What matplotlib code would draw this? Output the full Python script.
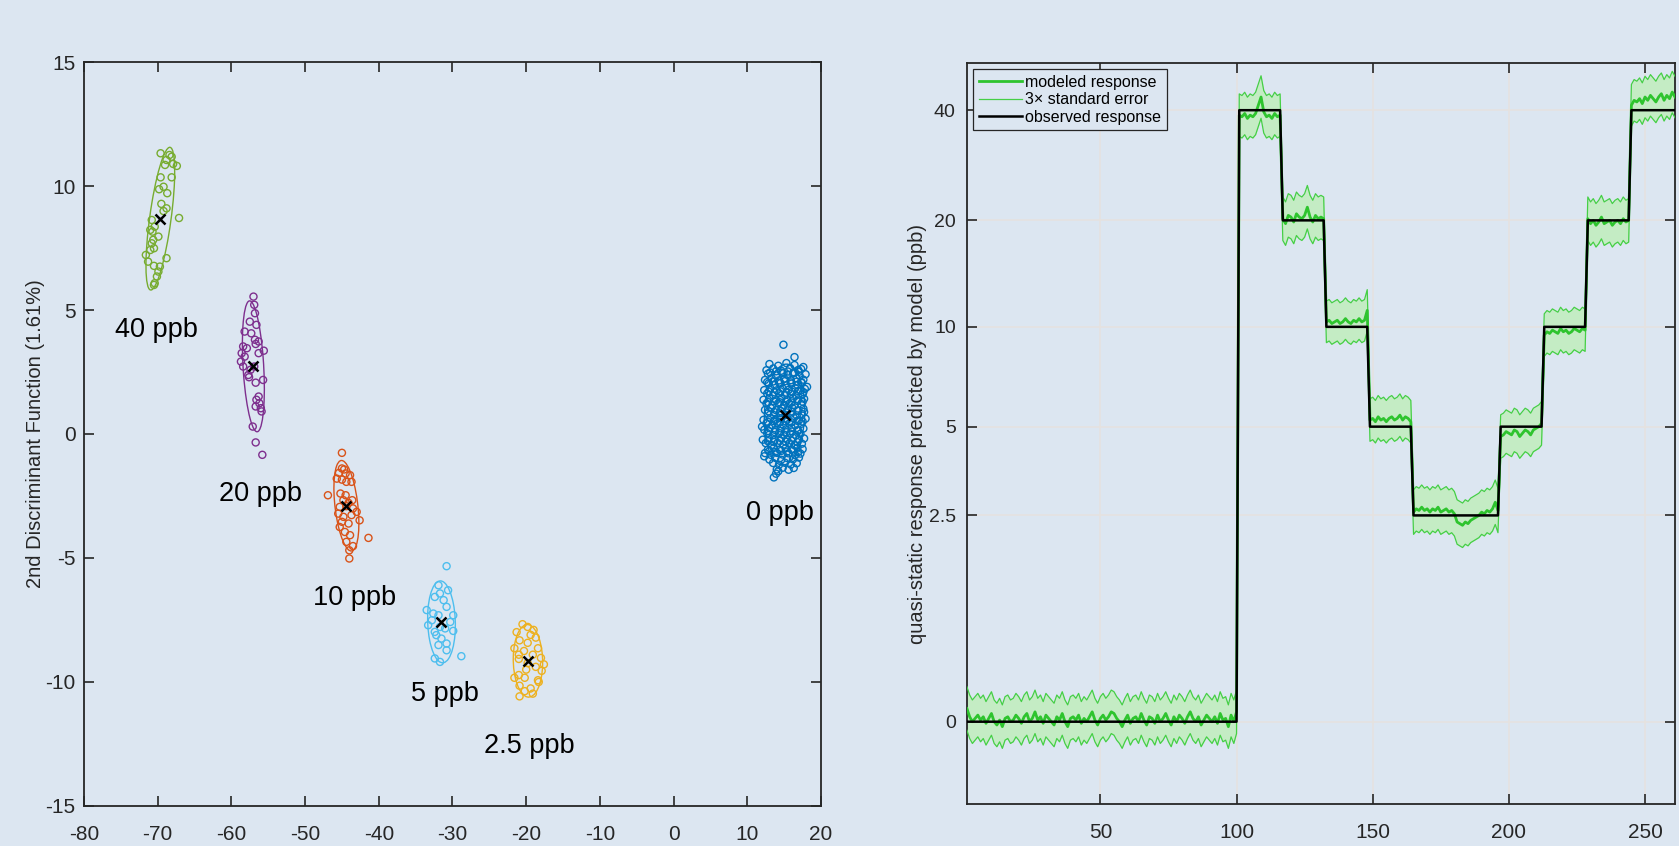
import numpy as np
import matplotlib
matplotlib.use('Agg')
import matplotlib.pyplot as plt
from matplotlib.patches import Ellipse

plt.rcParams['font.family'] = ['Liberation Sans', 'DejaVu Sans']
plt.rcParams['axes.unicode_minus'] = False

bg = '#dce6f1'

# ---------------- left panel: discriminant scores ----------------
labels = ['0 ppb', '2.5 ppb', '5 ppb', '10 ppb', '20 ppb', '40 ppb']
colors = ['#0072BD', '#EDB120', '#4DBEEE', '#D95319', '#7E2F8E', '#77AC30']

x0 = [13.0, 14.2, 15.3, 16.4,
      12.6, 13.5, 14.6, 15.8, 16.9, 17.3,
      12.8, 13.9, 14.9, 15.5, 16.2, 17.1, 17.9,
      12.4, 13.3, 14.3, 15.0, 15.9, 16.7, 17.6,
      12.9, 13.7, 14.5, 15.3, 16.0, 16.8, 17.4,
      12.3, 13.1, 14.0, 14.8, 15.6, 16.5, 17.2, 17.8,
      12.7, 13.5, 14.3, 15.1, 15.9, 16.6, 17.5,
      12.2, 13.0, 13.9, 14.6, 15.4, 16.2, 16.9, 17.7,
      12.6, 13.4, 14.2, 15.0, 15.7, 16.4, 17.3,
      12.4, 13.2, 13.9, 14.7, 15.5, 16.1, 16.8, 17.6,
      12.8, 13.6, 14.4, 15.2, 15.9, 16.7, 17.4,
      12.2, 13.1, 13.8, 14.6, 15.4, 16.3, 17.0, 17.9,
      12.6, 13.4, 14.1, 14.9, 15.7, 16.5, 17.3,
      12.3, 13.0, 13.8, 14.5, 15.2, 16.0, 16.8, 17.6,
      12.7, 13.5, 14.3, 15.0, 15.8, 16.6, 17.2,
      12.1, 12.9, 13.7, 14.6, 15.4, 16.2, 17.0, 17.7,
      12.5, 13.3, 14.1, 14.9, 15.7, 16.4, 17.4,
      12.8, 13.6, 14.4, 15.2, 16.0, 16.8, 17.5,
      12.4, 13.2, 14.0, 14.8, 15.6, 16.5, 17.2,
      13.0, 13.8, 14.6, 15.4, 16.2, 17.0,
      13.5, 14.3, 15.1, 15.9, 16.7,
      14.0, 14.8, 15.6, 16.3,
      13.9, 13.6, 14.2, 14.9, 16.4, 12.0, 18.1, 17.6, 12.3,
      13.1, 13.9, 14.7, 15.5, 16.3, 17.0,
      12.7, 13.5, 14.3, 15.1, 15.9, 16.7, 17.3,
      12.9, 13.7, 14.5, 15.3, 16.1, 16.9, 17.6,
      12.8, 13.6, 14.4, 15.2, 16.0, 16.8, 17.5,
      12.9, 13.7, 14.5, 15.3, 16.1, 16.9, 17.7,
      12.8, 13.6, 14.4, 15.2, 16.0, 16.8, 17.5,
      12.9, 13.7, 14.5, 15.3, 16.1, 16.9,
      12.8, 13.6, 14.4, 15.2, 16.0, 16.8,
      13.0, 13.8, 14.6, 15.4, 16.2, 16.9]
y0 = [2.82, 2.75, 2.86, 2.78,
      2.57, 2.64, 2.55, 2.66, 2.58, 2.62,
      2.43, 2.36, 2.45, 2.38, 2.44, 2.35, 2.41,
      2.18, 2.25, 2.16, 2.23, 2.17, 2.24, 2.19,
      2.04, 1.97, 2.05, 1.96, 2.03, 1.98, 2.06,
      1.77, 1.84, 1.76, 1.83, 1.78, 1.85, 1.75, 1.82,
      1.63, 1.56, 1.64, 1.57, 1.62, 1.55, 1.61,
      1.38, 1.44, 1.36, 1.43, 1.37, 1.45, 1.39, 1.42,
      1.23, 1.16, 1.24, 1.17, 1.22, 1.15, 1.21,
      0.97, 1.04, 0.96, 1.03, 0.98, 1.05, 0.95, 1.02,
      0.83, 0.76, 0.84, 0.77, 0.82, 0.75, 0.81,
      0.57, 0.64, 0.56, 0.63, 0.58, 0.65, 0.55, 0.62,
      0.43, 0.36, 0.44, 0.37, 0.42, 0.35, 0.41,
      0.17, 0.24, 0.16, 0.23, 0.18, 0.25, 0.15, 0.22,
      0.03, -0.04, 0.04, -0.03, 0.02, -0.05, 0.01,
      -0.23, -0.16, -0.24, -0.17, -0.22, -0.15, -0.21, -0.18,
      -0.37, -0.44, -0.36, -0.43, -0.38, -0.45, -0.39,
      -0.63, -0.56, -0.64, -0.57, -0.62, -0.55, -0.61,
      -0.77, -0.84, -0.76, -0.83, -0.78, -0.85, -0.79,
      -1.03, -0.96, -1.04, -0.97, -1.02, -0.95,
      -1.17, -1.24, -1.16, -1.23, -1.18,
      -1.43, -1.36, -1.44, -1.37,
      -1.60, -1.75, -1.50, 3.60, 3.10, 0.30, 1.90, 2.70, -0.90,
      2.48, 2.53, 2.47, 2.52, 2.49, 2.51,
      2.09, 2.12, 2.07, 2.13, 2.08, 2.11, 2.10,
      1.71, 1.68, 1.72, 1.67, 1.70, 1.73, 1.69,
      1.29, 1.32, 1.28, 1.31, 1.27, 1.33, 1.30,
      0.91, 0.88, 0.92, 0.87, 0.90, 0.93, 0.89,
      0.49, 0.52, 0.48, 0.51, 0.47, 0.53, 0.50,
      0.11, 0.08, 0.12, 0.07, 0.10, 0.13,
      -0.29, -0.32, -0.28, -0.31, -0.27, -0.33,
      -0.69, -0.72, -0.68, -0.71, -0.67, -0.73]

x25 = [-20.5, -19.8, -21.3, -19.4, -18.7, -20.9, -19.8, -18.4, -21.6, -20.3,
       -19.1, -18.0, -21.0, -19.8, -18.7, -17.9, -21.0, -20.2, -18.4, -20.9,
       -19.4, -20.2, -19.1, -20.9, -21.6, -17.6, -19.0, -21.0, -18.3, -20.0]
y25 = [-7.67, -7.78, -7.99, -8.10, -8.21, -8.32, -8.42, -8.64, -8.64, -8.75,
       -8.90, -9.03, -9.07, -9.24, -9.39, -9.55, -9.72, -9.83, -9.93, -10.15,
       -10.26, -10.37, -10.47, -10.58, -9.83, -9.29, -7.90, -8.90, -10.00, -9.50]

x5 = [-30.8, -31.9, -30.6, -31.7, -32.4, -31.2, -33.5, -30.8, -32.6, -31.9,
      -29.9, -33.3, -31.7, -32.4, -31.0, -29.9, -32.2, -31.5, -30.8, -31.9,
      -30.8, -28.8, -32.4, -31.7, -32.8, -30.3]
y5 = [-5.33, -6.10, -6.30, -6.43, -6.57, -6.70, -7.10, -6.97, -7.24, -7.31,
      -7.31, -7.71, -7.78, -7.98, -7.84, -7.94, -8.11, -8.25, -8.45, -8.51,
      -8.72, -8.96, -9.05, -9.19, -7.51, -7.58]

x10 = [-45.0, -45.0, -44.7, -45.4, -44.5, -43.9, -45.7, -45.0, -44.4, -43.7,
       -46.9, -45.2, -44.5, -43.6, -44.1, -45.3, -44.4, -43.5, -45.5, -44.8,
       -43.7, -42.6, -45.0, -44.1, -45.3, -44.6, -43.9, -41.4, -44.4, -43.5,
       -44.0, -44.0, -44.8, -43.0]
y10 = [-0.76, -1.39, -1.43, -1.57, -1.59, -1.66, -1.80, -1.84, -1.93, -1.93,
       -2.47, -2.40, -2.47, -2.67, -2.78, -2.94, -2.91, -3.00, -3.21, -3.34,
       -3.27, -3.48, -3.54, -3.61, -3.75, -3.95, -4.08, -4.19, -4.35, -4.52,
       -4.69, -5.02, -2.67, -3.14]

x20 = [-57.0, -56.9, -56.8, -57.5, -56.6, -58.2, -57.3, -56.8, -56.3, -56.7,
       -55.6, -58.4, -58.6, -58.2, -58.7, -58.4, -57.4, -57.7, -57.6, -55.7,
       -56.7, -56.3, -56.6, -56.2, -56.7, -56.0, -55.9, -57.1, -56.7, -55.8,
       -57.9, -56.3, -56.9]
y20 = [5.54, 5.21, 4.87, 4.53, 4.40, 4.13, 4.06, 3.80, 3.73, 3.63,
       3.36, 3.53, 3.26, 3.12, 2.92, 2.72, 2.59, 2.38, 2.29, 2.18,
       2.07, 1.51, 1.38, 1.24, 1.11, 1.04, 0.91, 0.30, -0.34, -0.84,
       3.46, 3.26, 2.72]

x40 = [-69.6, -68.4, -68.1, -68.8, -67.9, -67.4, -69.0, -69.6, -68.1, -69.8,
       -68.7, -69.5, -68.8, -69.2, -67.1, -70.8, -71.0, -70.7, -70.6, -70.8,
       -70.5, -71.0, -71.6, -68.8, -71.3, -70.5, -69.7, -69.9, -70.1, -70.4,
       -70.5, -69.2, -70.4, -69.9]
y40 = [11.32, 11.25, 11.18, 11.05, 10.89, 10.81, 10.85, 10.35, 10.35, 9.87,
       9.71, 9.28, 9.10, 8.99, 8.71, 8.63, 8.23, 8.16, 7.83, 7.69,
       7.49, 7.42, 7.22, 7.09, 6.95, 6.78, 6.75, 6.55, 6.35, 6.08,
       6.01, 9.97, 8.36, 7.96]

# where the class names are written
label_pos = [(14.4, -3.2), (-19.6, -12.6), (-31.0, -10.5),
             (-43.3, -6.6), (-56.0, -2.4), (-70.2, 4.2)]

# ---------------- right panel: step response ----------------
levels = [0, 40, 20, 10, 5, 2.5, 5, 10, 20, 40]
durations = [100, 16, 16, 16, 16, 32, 16, 16, 16, 17]
se_seg = [0.044, 0.043, 0.044, 0.042, 0.043, 0.045, 0.044, 0.043, 0.044, 0.042]
# modeled response, deviation from observed in 0.01 units of log(1+ppb)
model_dev = [8, 3, 0, 2, 4, 1, 3, -1, 2, 5, 0, -2, 1, -3, 2, 3, 0, 1, 4, 2,
             -1, 3, 5, 0, 2, 6, 1, 3, -1, 4, 2, 0, -2, 3, 1, 5, 0, -3, 2, 3,
             1, 4, -1, 2, 0, 3, 6, 1, -2, 2, 4, 1, 3, 6, 5, 2, 0, -3, 1, 4,
             -1, 2, 3, 0, 5, 1, -2, 3, 2, -1, 4, 0, 2, 5, 1, -2, 3, 0, 4, 2,
             -1, 3, 6, 2, 0, 3, -2, 1, 4, 2, 0, 3, -1, 5, 1, 2, -3, 4, 0, 6,
             -3, -4, -2, -5, -3, -4, -2, 3, 8, -1, -4, -3, -5, -2, -4, -3,
             1, -2, 3, 2, -1, 4, 2, 1, 3, 8, 2, -1, 3, 1, 2, 1,
             3, 4, 2, 3, 4, 2, 3, 5, 3, 2, 4, 3, 5, 3, 4, 10,
             4, 5, 3, 6, 4, 5, 3, 5, 6, 4, 5, 7, 4, 6, 5, 3,
             2, 4, 3, 5, 3, 4, 2, 4, 3, 5, 2, 3, 4, 2, 3, 1,
             -4, -5, -6, -4, -5, -3, -2, -1, 0, 2, 1, 3, 2, 4, 8, 3,
             -6, -5, -3, -4, -5, -2, -3, -6, -4, -2, -3, -5, -2, -1, 0, 2,
             -5, -3, -4, -2, -3, -4, -1, -3, -2, -4, -3, -1, -2, -3, -1, -2,
             1, -2, 0, -3, -1, 2, -2, -1, 0, -3, -1, 0, -2, 1, -1, 0,
             3, 6, 5, 7, 4, 8, 6, 9, 7, 5, 8, 10, 6, 9, 7, 11, 8]
yticks_r = [0, 2.5, 5, 10, 20, 40]

observed = np.repeat(levels, durations).astype(float)
se = np.repeat(se_seg, durations)
t = np.arange(1, len(observed) + 1)
model_t = np.log1p(observed) + np.array(model_dev) / 100.0
modeled = np.expm1(model_t)
upper = np.expm1(model_t + 3 * se)
lower = np.expm1(model_t - 3 * se)

fig = plt.figure(figsize=(16.79, 8.46), dpi=100, facecolor=bg)
ax1 = fig.add_axes([0.050, 0.0473, 0.439, 0.8794])
ax2 = fig.add_axes([0.5759, 0.0496, 0.4217, 0.8759])

groups = [(x0, y0), (x25, y25), (x5, y5), (x10, y10), (x20, y20), (x40, y40)]
for (gx, gy), col, lab, pos in zip(groups, colors, labels, label_pos):
    gx = np.array(gx)
    gy = np.array(gy)
    mx, my = gx.mean(), gy.mean()
    cov = np.cov(gx, gy)
    vals, vecs = np.linalg.eigh(cov)
    ang = np.degrees(np.arctan2(vecs[1, 1], vecs[0, 1]))
    k = 1.7
    ell = Ellipse((mx, my), 2 * k * np.sqrt(vals[1]), 2 * k * np.sqrt(vals[0]),
                  angle=ang, fill=False, edgecolor=col, lw=1.0)
    ax1.add_patch(ell)
    ax1.scatter(gx, gy, s=26, facecolors='none', edgecolors=col, linewidths=1.0)
    ax1.plot(mx, my, 'x', color='k', ms=7, mew=1.8)
    ax1.text(pos[0], pos[1], lab, fontsize=19.5, ha='center', va='center')

ax1.set_xlim(-80, 20)
ax1.set_ylim(-15, 15)
ax1.set_xticks(np.arange(-80, 21, 10))
ax1.set_yticks(np.arange(-15, 16, 5))
ax1.set_ylabel('2nd Discriminant Function (1.61%)', fontsize=14.5, color='#262626')
ax1.yaxis.set_label_coords(-0.053, 0.5)

# right panel with log(1+y) axis
ax2.set_yscale('function', functions=(lambda v: np.log1p(np.maximum(v, -0.999)), np.expm1))
ax2.fill_between(t, lower, upper, color='#c4ecc4', lw=0, zorder=2)
l_up, = ax2.plot(t, upper, color='#45cf45', lw=0.9, zorder=3)
ax2.plot(t, lower, color='#45cf45', lw=0.9, zorder=3)
l_mod, = ax2.plot(t, modeled, color='#2ec42e', lw=2.0, zorder=4)
l_obs, = ax2.plot(t, observed, color='k', lw=1.8, zorder=5)
ax2.set_xlim(1, 261)
ax2.set_ylim(np.expm1(-0.5), np.expm1(4.0))
ax2.set_xticks([50, 100, 150, 200, 250])
ax2.set_yticks(yticks_r)
ax2.set_yticklabels(['0', '2.5', '5', '10', '20', '40'])
ax2.grid(True, color='#e6e2df', lw=1.1)
ax2.set_axisbelow(True)
ax2.set_ylabel('quasi-static response predicted by model (ppb)', fontsize=14.5, color='#262626')
ax2.yaxis.set_label_coords(-0.056, 0.5)
leg = ax2.legend([l_mod, l_up, l_obs],
                 ['modeled response', '3\u00d7 standard error', 'observed response'],
                 loc='upper left', fontsize=11.5, frameon=True, fancybox=False,
                 handlelength=2.7, handletextpad=0.2, labelspacing=0.15,
                 borderpad=0.35, borderaxespad=0.4)
leg.get_frame().set_edgecolor('#262626')
leg.get_frame().set_linewidth(0.9)
leg.get_frame().set_facecolor(bg)
leg.get_frame().set_alpha(1)

for ax in (ax1, ax2):
    ax.set_facecolor(bg)
    ax.tick_params(direction='in', top=True, right=True, length=7, width=1.2,
                   labelsize=15, colors='#262626', pad=6)
    ax.tick_params(axis='x', pad=14)
    for sp in ax.spines.values():
        sp.set_color('#262626')
        sp.set_linewidth(1.3)
ax2.tick_params(axis='y', pad=8, labelsize=14)
ax2.tick_params(which='minor', left=False, right=False)

fig.savefig('out.png', dpi=100, facecolor=bg)
